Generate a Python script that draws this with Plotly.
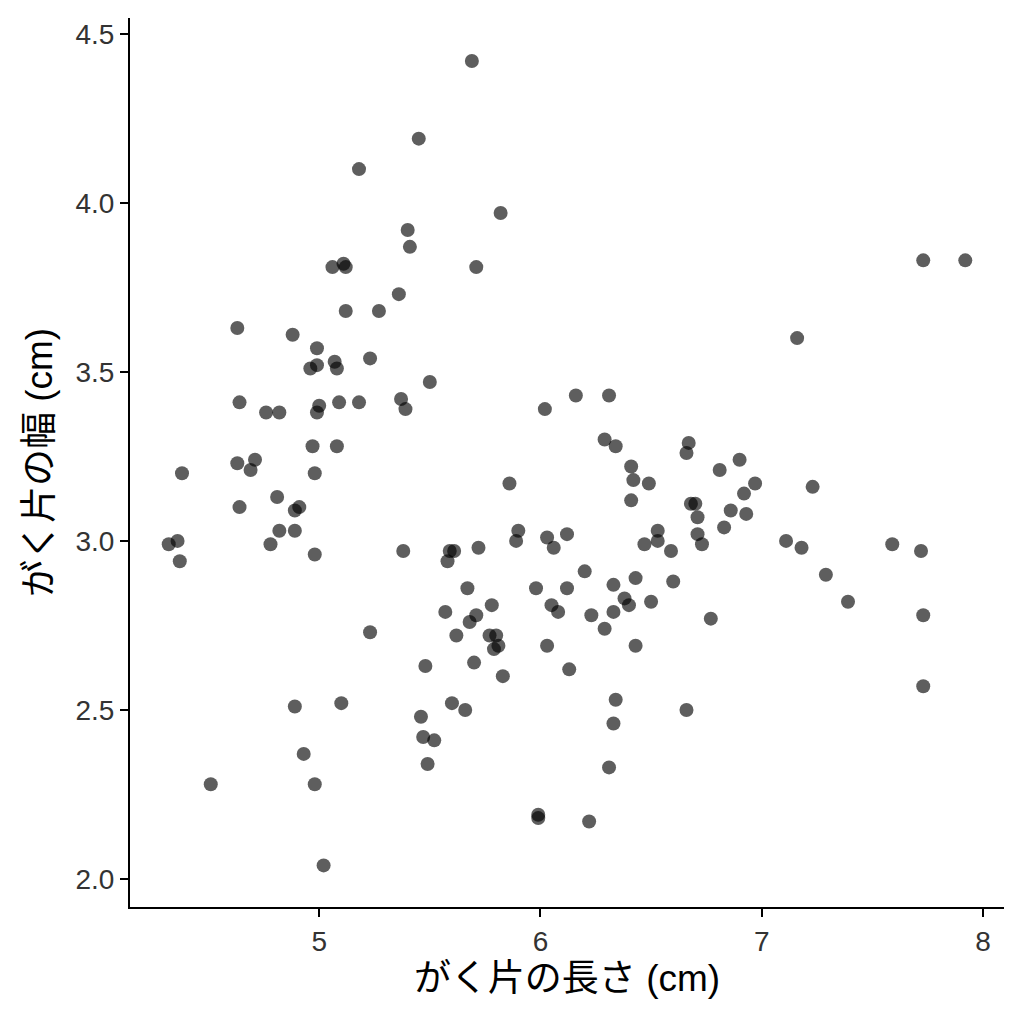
import plotly.graph_objects as go

# がく片の長さ / 幅 (cm) — 画像から読み取った値
sepal_length = [
    5.18, 5.45, 5.40, 5.41, 5.06, 5.11, 5.12, 5.36, 5.12, 5.27,
    5.69, 5.82, 5.71,
    4.99, 4.96, 4.99, 5.07, 5.08, 5.23, 5.50, 4.63, 4.88, 4.64, 4.76,
    4.82, 5.00, 4.99, 5.09, 5.18, 5.37, 5.39, 4.97, 5.08, 4.38, 4.63,
    4.71, 4.69, 4.98, 4.81, 4.64, 4.91, 4.89, 4.82, 4.89, 4.78, 4.36,
    4.32, 4.37, 4.98, 5.38,
    6.02, 6.16, 6.31, 6.29, 6.34, 6.67, 6.66, 6.41, 6.42, 6.49,
    6.41, 6.81, 5.86, 6.68, 6.70, 6.86, 6.71, 6.83, 6.71, 6.73,
    6.53, 6.53, 6.47, 6.59, 5.90, 5.89, 6.03, 6.06, 6.12, 5.72,
    5.59, 5.61, 5.58, 6.20, 5.67, 5.98, 6.12, 6.33, 6.43, 6.60,
    5.57, 5.71, 5.68, 5.78, 6.05, 6.08, 6.23, 6.33, 6.38, 6.40,
    6.50, 6.77, 5.62, 5.77, 5.80, 5.81, 5.79, 6.03, 6.29, 6.43,
    5.70, 5.83, 6.13, 5.60, 5.66, 6.34, 6.66, 6.33, 5.52, 6.31,
    5.99, 5.99, 6.22,
    5.23, 5.48, 4.89, 5.10, 5.46, 5.47, 5.49, 4.93, 4.51, 4.98, 5.02,
    7.73, 7.92, 7.16, 6.90, 6.97, 6.92, 6.93, 7.23, 7.11, 7.18,
    7.59, 7.72, 7.29, 7.39, 7.73, 7.73,
]
sepal_width = [
    4.10, 4.19, 3.92, 3.87, 3.81, 3.82, 3.81, 3.73, 3.68, 3.68,
    4.42, 3.97, 3.81,
    3.57, 3.51, 3.52, 3.53, 3.51, 3.54, 3.47, 3.63, 3.61, 3.41, 3.38,
    3.38, 3.40, 3.38, 3.41, 3.41, 3.42, 3.39, 3.28, 3.28, 3.20, 3.23,
    3.24, 3.21, 3.20, 3.13, 3.10, 3.10, 3.09, 3.03, 3.03, 2.99, 3.00,
    2.99, 2.94, 2.96, 2.97,
    3.39, 3.43, 3.43, 3.30, 3.28, 3.29, 3.26, 3.22, 3.18, 3.17,
    3.12, 3.21, 3.17, 3.11, 3.11, 3.09, 3.07, 3.04, 3.02, 2.99,
    3.03, 3.00, 2.99, 2.97, 3.03, 3.00, 3.01, 2.98, 3.02, 2.98,
    2.97, 2.97, 2.94, 2.91, 2.86, 2.86, 2.86, 2.87, 2.89, 2.88,
    2.79, 2.78, 2.76, 2.81, 2.81, 2.79, 2.78, 2.79, 2.83, 2.81,
    2.82, 2.77, 2.72, 2.72, 2.72, 2.69, 2.68, 2.69, 2.74, 2.69,
    2.64, 2.60, 2.62, 2.52, 2.50, 2.53, 2.50, 2.46, 2.41, 2.33,
    2.19, 2.18, 2.17,
    2.73, 2.63, 2.51, 2.52, 2.48, 2.42, 2.34, 2.37, 2.28, 2.28, 2.04,
    3.83, 3.83, 3.60, 3.24, 3.17, 3.14, 3.08, 3.16, 3.00, 2.98,
    2.99, 2.97, 2.90, 2.82, 2.78, 2.57,
]

x_ticks = [5, 6, 7, 8]
y_ticks = [2.0, 2.5, 3.0, 3.5, 4.0, 4.5]

font_family = "Liberation Sans, Noto Sans CJK JP, sans-serif"

fig = go.Figure()
fig.add_trace(go.Scatter(
    x=sepal_length, y=sepal_width, mode="markers",
    marker=dict(color="black", size=14, opacity=0.63, line=dict(width=0)),
    showlegend=False,
))

axis_style = dict(
    showline=True, linecolor="black", linewidth=2,
    ticks="outside", ticklen=8, tickwidth=2, tickcolor="black",
    showgrid=False, zeroline=False,
    tickfont=dict(family=font_family, size=28, color="#333333"),
)

# ページ本文の余白 (8px) を見込んでずらす
fig.update_layout(
    width=1024, height=1024,
    margin=dict(l=122, r=28, t=10, b=125),
    plot_bgcolor="white", paper_bgcolor="white",
    font=dict(family=font_family),
    xaxis=dict(range=[4.145, 8.095], tickvals=x_ticks,
               ticktext=[str(v) for v in x_ticks],
               title=dict(text="がく片の長さ (cm)", standoff=10,
                          font=dict(family=font_family, size=37, color="black")),
               **axis_style),
    yaxis=dict(range=[1.917, 4.547], tickvals=y_ticks,
               ticktext=[f"{v:.1f}" for v in y_ticks],
               title=dict(text="がく片の幅 (cm)", standoff=12,
                          font=dict(family=font_family, size=37, color="black")),
               **axis_style),
)

fig.write_html("out.html")
